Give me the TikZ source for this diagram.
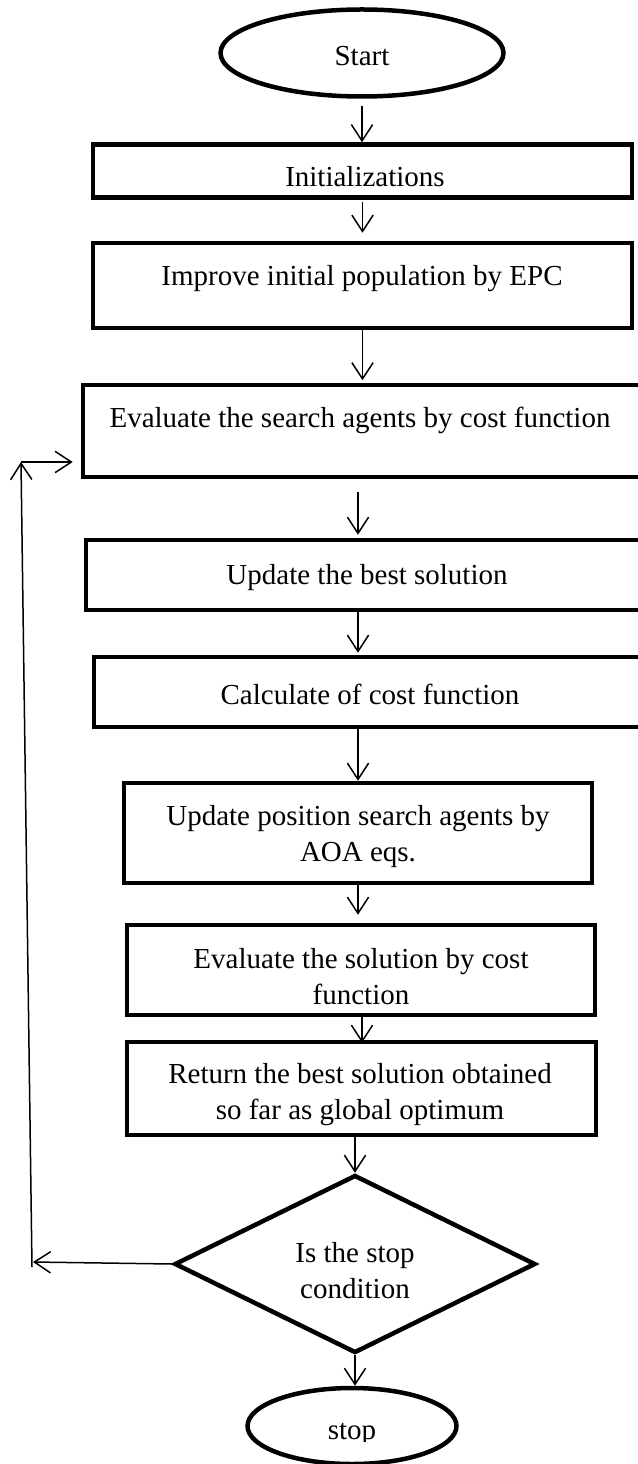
\documentclass[tikz,border=0pt]{standalone}
\usepackage{fontspec}
\setmainfont{Liberation Serif}
\usetikzlibrary{shapes.geometric,arrows.meta}

\begin{document}
\begin{tikzpicture}[x=0.4pt,y=-0.4pt,
  box/.style={draw,line width=1.8pt,rectangle,inner sep=0pt},
  term/.style={draw,line width=1.8pt,ellipse,inner sep=0pt},
  cond/.style={draw,line width=1.8pt,diamond,inner sep=0pt},
  lbl/.style={align=center,inner sep=0pt,font={\fontsize{11.6}{14.4}\selectfont}},
  arr/.style={line width=0.6pt,-{Straight Barb[length=6.5pt,width=8.5pt,line width=0.6pt]}}]

\useasboundingbox (0,0) rectangle (638,1464);

% shapes
\node[term, minimum width=113.2pt, minimum height=34.8pt] (start) at (362,53) {};
\node[box, minimum width=215.6pt, minimum height=21.2pt] (init) at (362.5,171) {};
\node[box, minimum width=215.6pt, minimum height=34pt] (impr) at (362.5,285.5) {};
\node[box, minimum width=222.8pt, minimum height=36.8pt] (eval) at (361.5,431) {};
\node[box, minimum width=221.6pt, minimum height=28pt] (upd) at (363,575) {};
\node[box, minimum width=218.4pt, minimum height=28pt] (calc) at (367,692) {};
\node[box, minimum width=187.2pt, minimum height=40pt] (pos) at (358,833) {};
\node[box, minimum width=187.2pt, minimum height=36pt] (evs) at (361,970) {};
\node[box, minimum width=187.6pt, minimum height=37.2pt] (ret) at (361.5,1088.5) {};
\node[cond, minimum width=144.4pt, minimum height=71.2pt] (dec) at (355,1264) {};
\node[term, minimum width=83.6pt, minimum height=30.4pt] (stop) at (352,1426) {};

% texts
\node[lbl] (startT) at (362,56) {Start};
\node[lbl] (initT) at (365,177) {Initializations};
\node[lbl] (imprT) at (362,279) {Improve initial population by EPC};
\node[lbl] (evalT) at (360,420) {Evaluate the search agents by cost function};
\node[lbl] (updT) at (367,578) {Update the best solution};
\node[lbl] (calcT) at (370,694) {Calculate of cost function};
\node[lbl] (posT) at (358,837) {Update position search agents by\\AOA eqs.};
\node[lbl] (evsT) at (361,977) {Evaluate the solution by cost\\function};
\node[lbl] (retT) at (360,1095) {Return the best solution obtained\\so far as global optimum};
\node[lbl] (decT) at (355,1271) {Is the stop\\condition};
\begin{scope}
  \clip (0,0) rectangle (638,1441);
  \node[lbl] (stopT) at (352,1434) {stop};
\end{scope}

% connectors
\coordinate (c1) at (start.south);
\draw[arr,shorten <=3pt] (c1) -- (c1 |- init.north);
\coordinate (c2) at (init.south);
\draw[arr,shorten <=1pt,shorten >=3.2pt] (c2) -- (c2 |- impr.north);
\coordinate (c3) at (impr.south);
\draw[arr,shorten >=1pt] (c3) -- (c3 |- eval.north);
\coordinate (c4) at ([xshift=-1.4pt]eval.south);
\draw[arr,shorten <=5.2pt,shorten >=1.2pt] (c4) -- (c4 |- upd.north);
\coordinate (c5) at ([xshift=-2pt]upd.south);
\draw[arr,shorten >=0.8pt] (c5) -- (c5 |- calc.north);
\coordinate (c6) at ([xshift=-3.6pt]calc.south);
\draw[arr] (c6) -- (c6 |- pos.north);
\coordinate (c7) at (pos.south);
\draw[arr,shorten >=3.2pt] (c7) -- (c7 |- evs.north);
\coordinate (c8) at ([xshift=0.4pt]evs.south);
\draw[arr,shorten >=-1.2pt] (c8) -- (c8 |- ret.north);
\coordinate (c9) at ([xshift=-2.6pt]ret.south);
\draw[arr] (c9) -- (c9 |- dec.north);
\draw[arr] (dec.south) -- (dec.south |- stop.north);

% loop back to the evaluation step
\coordinate (loopB) at (33,1262);
\coordinate (loopE) at (32,1267);
\coordinate (loopT) at (21,462);
\draw[arr] (dec.west) -- (loopB);
\draw[arr] (loopE) -- (loopT);
\draw[arr,shorten >=3.2pt] (loopT) -- (loopT -| eval.west);
\end{tikzpicture}
\end{document}
